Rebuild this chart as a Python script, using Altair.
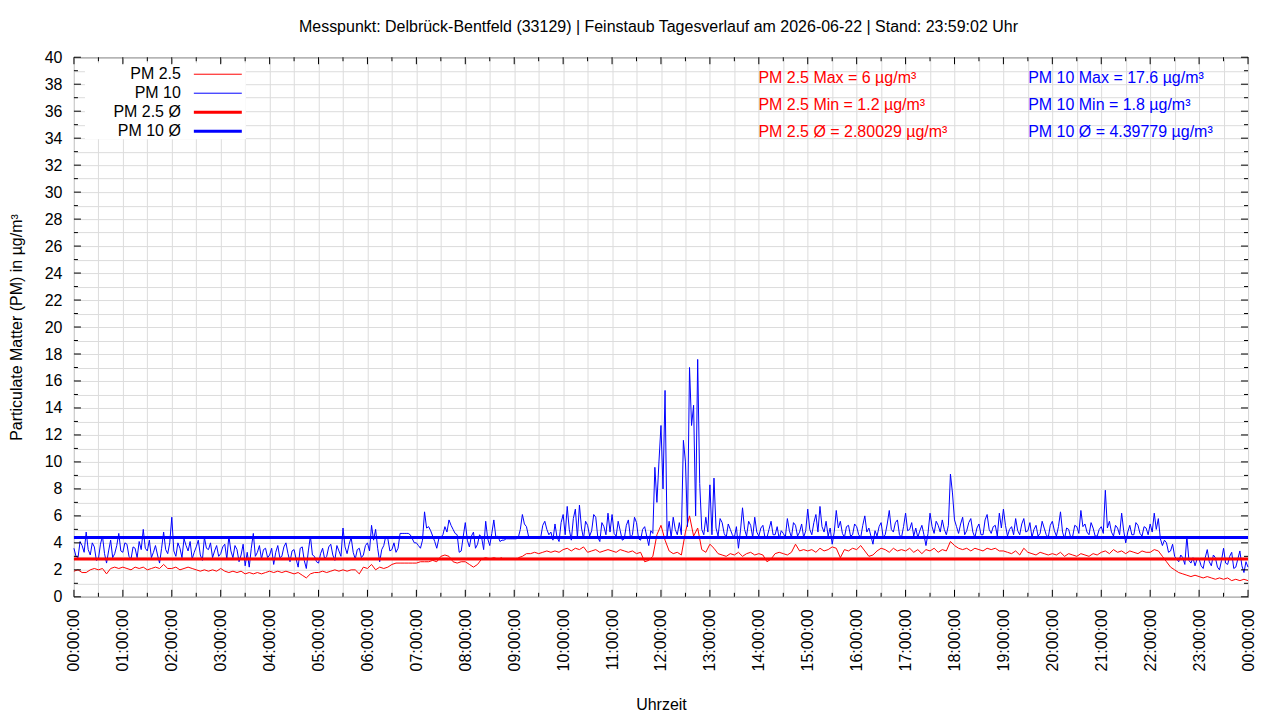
import altair as alt
import pandas as pd

# ---------------- data ----------------
# PM 10: readings every 2.5 minutes, 24 values per hour (00..23), plus the 24:00 reading
pm10_h00 = [3.6, 3.0, 2.9, 4.1, 3.8, 3.3, 4.8, 3.5, 3.1, 4.0, 3.7, 2.7, 2.8, 3.9, 4.5, 3.2, 2.5, 3.4, 4.2, 2.9, 3.2, 3.8, 4.7, 3.4]
pm10_h01 = [3.3, 4.0, 3.9, 3.0, 2.8, 3.7, 3.6, 2.9, 4.1, 3.5, 5.0, 3.6, 3.4, 4.2, 2.9, 3.3, 3.8, 3.1, 2.5, 3.6, 4.8, 3.5, 3.2, 4.0]
pm10_h02 = [5.9, 3.4, 3.0, 4.0, 3.6, 2.9, 4.3, 3.8, 3.4, 4.1, 2.8, 3.3, 3.7, 4.2, 3.1, 2.7, 4.4, 3.6, 3.5, 4.0, 2.9, 3.4, 3.8, 3.0]
pm10_h03 = [3.2, 3.7, 3.9, 2.8, 4.5, 3.4, 2.9, 3.8, 3.5, 2.6, 3.1, 3.9, 2.3, 3.3, 2.2, 3.6, 4.7, 3.0, 3.3, 3.8, 2.8, 3.5, 3.6, 2.9]
pm10_h04 = [3.1, 3.6, 2.4, 3.3, 3.8, 2.9, 3.0, 3.7, 4.0, 3.2, 2.6, 3.4, 3.5, 2.8, 2.2, 3.6, 3.7, 2.7, 2.1, 3.4, 4.5, 3.1, 3.0, 2.6]
pm10_h05 = [2.5, 3.2, 3.6, 2.8, 3.0, 3.7, 3.9, 3.1, 2.7, 3.8, 3.4, 3.0, 5.1, 3.7, 3.2, 3.9, 4.4, 3.3, 2.8, 3.5, 3.6, 2.9, 3.1, 3.8]
pm10_h06 = [4.0, 3.4, 5.3, 4.2, 5.0, 3.6, 2.6, 3.5, 3.8, 4.5, 4.3, 3.4, 3.5, 4.0, 3.3, 3.6, 4.7, 4.7, 4.7, 4.7, 4.7, 4.6, 4.3, 4.0]
pm10_h07 = [4.0, 3.8, 3.6, 4.2, 6.3, 5.1, 5.2, 4.9, 4.5, 4.1, 3.6, 4.3, 4.4, 4.6, 5.2, 4.8, 5.7, 5.3, 5.0, 4.7, 4.6, 3.3, 3.4, 4.5]
pm10_h08 = [5.5, 4.2, 3.7, 4.5, 4.8, 3.6, 3.9, 4.6, 4.4, 3.5, 5.6, 4.3, 3.8, 4.7, 5.7, 4.4, 4.5, 4.1, 4.2, 4.2, 4.3, 4.3, 4.3, 4.3]
pm10_h09 = [4.3, 4.3, 4.4, 5.0, 6.1, 5.4, 5.2, 4.5, 4.4, 4.4, 4.4, 4.4, 4.4, 4.4, 5.3, 5.6, 5.0, 4.6, 4.8, 4.2, 5.4, 4.4, 4.1, 5.5]
pm10_h10 = [6.1, 4.6, 6.7, 5.0, 4.2, 5.8, 6.5, 4.4, 6.8, 5.1, 4.3, 5.6, 5.3, 4.5, 4.9, 6.1, 5.9, 4.4, 4.1, 5.5, 5.2, 4.6, 6.2, 4.8]
pm10_h11 = [6.1, 4.7, 4.5, 5.6, 4.9, 4.2, 4.3, 5.3, 5.7, 4.4, 4.6, 5.9, 5.5, 4.3, 4.2, 5.0, 5.2, 4.5, 3.8, 4.9, 4.7, 9.6, 7.0, 10.0]
pm10_h12 = [12.7, 8.0, 15.3, 4.5, 5.6, 4.4, 5.9, 5.0, 4.6, 5.5, 4.6, 11.6, 10.0, 5.2, 17.0, 12.7, 14.2, 6.0, 17.6, 8.4, 5.0, 4.6, 5.9, 4.8]
pm10_h13 = [8.3, 4.6, 8.8, 5.1, 4.5, 5.8, 5.5, 4.7, 4.4, 5.4, 5.0, 4.6, 4.4, 5.2, 3.6, 4.9, 6.6, 5.0, 4.5, 5.6, 5.3, 4.4, 5.9, 4.8]
pm10_h14 = [4.5, 5.1, 5.3, 4.4, 4.4, 5.0, 5.6, 4.6, 4.6, 5.2, 4.3, 4.9, 4.7, 4.4, 5.8, 4.9, 4.4, 5.5, 5.3, 4.5, 4.8, 5.4, 4.4, 4.9]
pm10_h15 = [6.5, 5.0, 4.6, 5.5, 6.1, 4.8, 6.7, 5.2, 4.8, 5.6, 4.5, 5.1, 3.9, 4.8, 6.4, 5.1, 5.6, 4.7, 4.4, 5.2, 5.3, 4.5, 4.6, 5.4]
pm10_h16 = [5.2, 4.6, 4.4, 5.3, 6.0, 4.8, 5.1, 4.5, 3.9, 4.9, 4.5, 5.2, 5.5, 4.4, 4.6, 5.4, 6.4, 5.0, 4.8, 5.5, 5.7, 4.6, 4.4, 5.2]
pm10_h17 = [6.2, 4.9, 5.0, 5.5, 4.5, 5.1, 4.4, 4.9, 5.3, 4.6, 3.8, 4.7, 6.2, 5.2, 4.7, 5.6, 5.3, 4.8, 5.7, 5.0, 4.6, 5.3, 9.1, 7.7]
pm10_h18 = [5.7, 5.2, 4.7, 5.4, 5.9, 4.6, 4.9, 5.5, 5.8, 4.8, 4.4, 5.1, 5.4, 4.6, 4.6, 5.7, 6.1, 5.0, 4.7, 5.2, 5.3, 4.5, 6.2, 5.1]
pm10_h19 = [6.5, 5.3, 4.5, 5.0, 5.2, 4.6, 5.8, 4.9, 4.6, 5.4, 5.8, 4.8, 4.9, 5.5, 4.4, 5.0, 5.3, 4.5, 4.7, 5.6, 5.1, 4.6, 4.4, 5.3]
pm10_h20 = [5.6, 4.9, 4.5, 5.2, 6.3, 4.8, 4.3, 5.1, 5.0, 4.4, 4.5, 5.3, 5.2, 4.7, 6.4, 5.2, 5.4, 4.8, 4.6, 5.5, 5.1, 4.5, 4.5, 5.0]
pm10_h21 = [5.2, 4.7, 7.9, 5.1, 5.6, 4.8, 4.5, 5.3, 5.1, 4.6, 6.2, 4.9, 4.0, 4.8, 5.3, 4.6, 4.6, 5.5, 5.3, 4.7, 4.5, 5.2, 5.1, 4.6]
pm10_h22 = [5.4, 4.8, 6.2, 5.0, 5.8, 4.3, 3.8, 4.2, 4.0, 3.3, 3.4, 3.9, 3.0, 2.8, 2.6, 3.1, 2.9, 2.4, 4.5, 2.7, 2.5, 2.9, 2.3, 2.8]
pm10_h23 = [2.8, 2.3, 2.1, 2.9, 3.5, 2.6, 2.3, 3.1, 2.9, 2.2, 2.0, 2.7, 3.6, 2.5, 2.4, 3.0, 3.3, 2.1, 2.2, 2.8, 3.4, 2.3, 1.8, 2.6]
pm10_h24 = [2.2]

# PM 2.5: readings every 5 minutes, 12 values per hour (None = no reading), plus the 24:00 reading
pm25_h00 = [1.9, 2.0, 1.8, 1.8, 2.0, 2.1, 2.0, 2.1, 1.7, 2.1, 2.2, 2.1]
pm25_h01 = [2.2, 2.1, 2.0, 2.2, 2.1, 2.2, 2.0, 2.1, 2.2, 2.1, 2.4, 2.1]
pm25_h02 = [2.1, 2.2, 2.0, 2.1, 2.2, 2.1, 2.0, 1.9, 2.0, 1.9, 2.0, 1.9]
pm25_h03 = [2.1, 1.9, 1.8, 1.9, 1.8, 1.9, 1.7, 1.8, 1.7, 1.8, 1.7, 1.8]
pm25_h04 = [1.9, 1.8, 1.9, 1.8, 1.9, 1.8, 1.7, 1.8, 1.6, 1.4, 1.7, 1.8]
pm25_h05 = [1.8, 1.9, 1.8, 1.9, 2.0, 1.9, 2.0, 1.9, 2.0, 2.0, 1.7, 2.2]
pm25_h06 = [2.1, 2.4, 2.0, 2.2, 2.1, 2.2, 2.4, 2.5, 2.5, 2.5, 2.5, 2.5]
pm25_h07 = [2.5, 2.6, 2.6, 2.6, 2.7, 2.6, 3.0, 3.1, 3.0, 2.6, 2.5, 2.6]
pm25_h08 = [2.6, 2.4, 2.2, 2.4, 2.8, 2.9, 2.8, 2.9, 2.8, 2.9, None, None]
pm25_h09 = [None, 2.9, 3.0, 3.2, 3.2, 3.3, 3.2, 3.3, 3.4, 3.3, 3.4, 3.3]
pm25_h10 = [3.5, 3.6, 3.4, 3.6, 3.5, 3.7, 3.3, 3.4, 3.5, 3.3, 3.4, 3.5]
pm25_h11 = [3.4, 3.3, 3.5, 3.4, 3.3, 3.4, 3.2, 3.3, 2.6, 2.7, 3.0, 4.6]
pm25_h12 = [5.3, 4.2, 3.4, 3.2, 3.3, 3.1, 4.8, 6.0, 4.5, 5.1, 3.5, 3.3]
pm25_h13 = [3.9, 3.6, 3.2, 3.1, 3.0, 3.2, 3.1, 3.3, 3.0, 3.2, 3.3, 3.1]
pm25_h14 = [3.2, 3.1, 2.6, 2.8, 3.2, 3.3, 3.2, 3.1, 3.3, 3.9, 3.4, 3.5]
pm25_h15 = [3.4, 3.5, 3.3, 3.6, 3.4, 3.5, 3.7, 3.6, 2.9, 3.5, 3.4, 3.6]
pm25_h16 = [3.5, 3.8, 3.4, 3.0, 3.1, 3.4, 3.6, 3.5, 3.3, 3.6, 3.4, 3.5]
pm25_h17 = [3.4, 3.6, 3.3, 3.5, 3.2, 3.5, 3.4, 3.6, 3.3, 3.5, 3.4, 4.1]
pm25_h18 = [3.8, 3.6, 3.5, 3.6, 3.4, 3.6, 3.5, 3.4, 3.6, 3.5, 3.6, 3.4]
pm25_h19 = [3.4, 3.3, 3.2, 3.4, 3.1, 3.6, 3.3, 3.2, 3.1, 3.3, 3.2, 3.1]
pm25_h20 = [3.2, 3.1, 3.3, 3.0, 3.2, 3.1, 3.0, 3.2, 3.1, 3.0, 3.2, 3.1]
pm25_h21 = [3.3, 3.4, 3.2, 3.5, 3.3, 3.4, 3.2, 3.4, 3.3, 3.2, 3.4, 3.3]
pm25_h22 = [3.3, 3.5, 3.4, 3.0, 2.6, 2.2, 2.0, 1.8, 1.7, 1.6, 1.5, 1.6]
pm25_h23 = [1.5, 1.4, 1.5, 1.4, 1.3, 1.4, 1.3, 1.4, 1.2, 1.3, 1.2, 1.3]
pm25_h24 = [1.2]

pm25_mean = 2.80029
pm10_mean = 4.39779

series_names = ["PM 2.5", "PM 10"]
series_colors = ["#ff0000", "#0000ff"]
legend_labels = ["PM 2.5", "PM 10", "PM 2.5 Ø", "PM 10 Ø"]
stats_pm25 = ["PM 2.5 Max = 6 µg/m³", "PM 2.5 Min = 1.2 µg/m³", "PM 2.5 Ø = 2.80029 µg/m³"]
stats_pm10 = ["PM 10 Max = 17.6 µg/m³", "PM 10 Min = 1.8 µg/m³", "PM 10 Ø = 4.39779 µg/m³"]
title_text = "Messpunkt: Delbrück-Bentfeld (33129) | Feinstaub Tagesverlauf am 2026-06-22 | Stand: 23:59:02 Uhr"

x_major_ticks = list(range(0, 25))          # hours
x_minor_ticks = [h + 0.5 for h in range(24)]
y_major_ticks = list(range(0, 41, 2))
y_minor_ticks = list(range(1, 40, 2))

# ---------------- assemble ----------------
def join(prefix):
    g = globals()
    out = []
    for h in range(25):
        out += g[f"{prefix}_h{h:02d}"]
    return out

pm10 = join("pm10")
pm25 = join("pm25")

rows = []
for name, vals in zip(series_names, [pm25, pm10]):
    n = len(vals)
    seg = 0
    for i, v in enumerate(vals):
        if v is None:
            seg += 1
            continue
        rows.append({"t": 24 * i / (n - 1), "v": v, "s": name, "seg": f"{name}-{seg}"})
df = pd.DataFrame(rows)

W, H = 1175, 540
FONT = "Liberation Sans"
FS = 16
GRID = "#dcdcdc"

xs = alt.Scale(domain=[0, 24], nice=False, zero=False)
ys = alt.Scale(domain=[0, 40], nice=False, zero=False)
cs = alt.Scale(domain=series_names, range=series_colors)

x_axis = alt.Axis(
    values=[i / 2 for i in range(49)],
    labelExpr="datum.value % 1 !== 0 ? '' : ((datum.value % 24) < 10 ? '0' : '') + (datum.value % 24) + ':00:00'",
    labelAngle=270, labelPadding=12, ticks=False, tickSize=0, domain=False,
    grid=True, gridColor=GRID, gridWidth=1, labelFont=FONT, labelFontSize=FS,
    labelColor="black", labelOverlap=False, labelFlush=False,
    title="Uhrzeit", titleFont=FONT, titleFontSize=FS, titleFontWeight="normal",
    titleColor="black", titleY=108, titleBaseline="middle",
)
y_axis = alt.Axis(
    values=list(range(0, 41)),
    labelExpr="datum.value % 2 === 0 ? format(datum.value, 'd') : ''",
    labelPadding=12, ticks=False, tickSize=0, domain=False,
    grid=True, gridColor=GRID, gridWidth=1, labelFont=FONT, labelFontSize=FS,
    labelColor="black", labelOverlap=False, labelFlush=False,
    title="Particulate Matter (PM) in µg/m³", titleFont=FONT, titleFontSize=FS,
    titleFontWeight="normal", titleColor="black", titleX=-57, titleY=270,
    titleAngle=270, titleBaseline="middle", titleAlign="center",
)

def X(field):
    return alt.X(field, scale=xs, axis=x_axis)

def Y(field):
    return alt.Y(field, scale=ys, axis=y_axis)

lines = alt.Chart(df).mark_line(strokeWidth=1).encode(
    x=X("t:Q"),
    y=Y("v:Q"),
    color=alt.Color("s:N", scale=cs, legend=None),
    detail="seg:N",
    order=alt.Order("t:Q"),
)

means = alt.Chart(pd.DataFrame({"v": [pm25_mean, pm10_mean], "s": series_names})).mark_rule(
    strokeWidth=3
).encode(
    y=Y("v:Q"),
    x=alt.value(0), x2=alt.value(W),
    color=alt.Color("s:N", scale=cs, legend=None),
)

def xticks(vals, length):
    d = pd.DataFrame({"v": vals})
    bottom = alt.Chart(d).mark_rule(color="black", strokeWidth=1).encode(
        x=X("v:Q"), y=alt.value(H), y2=alt.value(H - length))
    top = alt.Chart(d).mark_rule(color="black", strokeWidth=1).encode(
        x=X("v:Q"), y=alt.value(0), y2=alt.value(length))
    return [bottom, top]

def yticks(vals, length):
    d = pd.DataFrame({"v": vals})
    left = alt.Chart(d).mark_rule(color="black", strokeWidth=1).encode(
        y=Y("v:Q"), x=alt.value(0), x2=alt.value(length))
    right = alt.Chart(d).mark_rule(color="black", strokeWidth=1).encode(
        y=Y("v:Q"), x=alt.value(W), x2=alt.value(W - length))
    return [left, right]

tick_layers = xticks(x_major_ticks, 7) + xticks(x_minor_ticks, 4) + yticks(y_major_ticks, 7) + yticks(y_minor_ticks, 4)

one = pd.DataFrame({"a": [0]})
legend_box = alt.Chart(one).mark_rect(color="white").encode(
    x=alt.value(11), x2=alt.value(172), y=alt.value(6), y2=alt.value(82))

legend_layers = []
legend_colors = [series_colors[0], series_colors[1], series_colors[0], series_colors[1]]
legend_widths = [1, 1, 3, 3]
for i, (lab, col, sw) in enumerate(zip(legend_labels, legend_colors, legend_widths)):
    yy = 17 + 19 * i
    legend_layers.append(
        alt.Chart(pd.DataFrame({"txt": [lab]})).mark_text(
            align="right", baseline="middle", font=FONT, fontSize=FS, color="black"
        ).encode(x=alt.value(107), y=alt.value(yy), text="txt:N"))
    legend_layers.append(
        alt.Chart(one).mark_rule(color=col, strokeWidth=sw).encode(
            x=alt.value(120), x2=alt.value(168), y=alt.value(yy)))

stat_layers = []
for i, txt in enumerate(stats_pm25):
    stat_layers.append(
        alt.Chart(pd.DataFrame({"txt": [txt]})).mark_text(
            align="left", baseline="middle", font=FONT, fontSize=FS, color=series_colors[0]
        ).encode(x=alt.value(685), y=alt.value(21 + 27 * i), text="txt:N"))
for i, txt in enumerate(stats_pm10):
    stat_layers.append(
        alt.Chart(pd.DataFrame({"txt": [txt]})).mark_text(
            align="left", baseline="middle", font=FONT, fontSize=FS, color=series_colors[1]
        ).encode(x=alt.value(955), y=alt.value(21 + 27 * i), text="txt:N"))

title_layer = alt.Chart(pd.DataFrame({"txt": [title_text]})).mark_text(
    align="center", baseline="middle", font=FONT, fontSize=FS, color="black"
).encode(x=alt.value(585), y=alt.value(-30), text="txt:N")

chart = alt.layer(
    lines, legend_box, means, *tick_layers, *legend_layers, *stat_layers, title_layer
).properties(
    width=W, height=H,
    autosize=alt.AutoSizeParams(type="none"),
    padding={"left": 66, "top": 49, "right": 24, "bottom": 115},
    background="white",
).configure_view(stroke="black", strokeWidth=1)

chart.save("out.html", embed_options={"renderer": "svg", "actions": False})
